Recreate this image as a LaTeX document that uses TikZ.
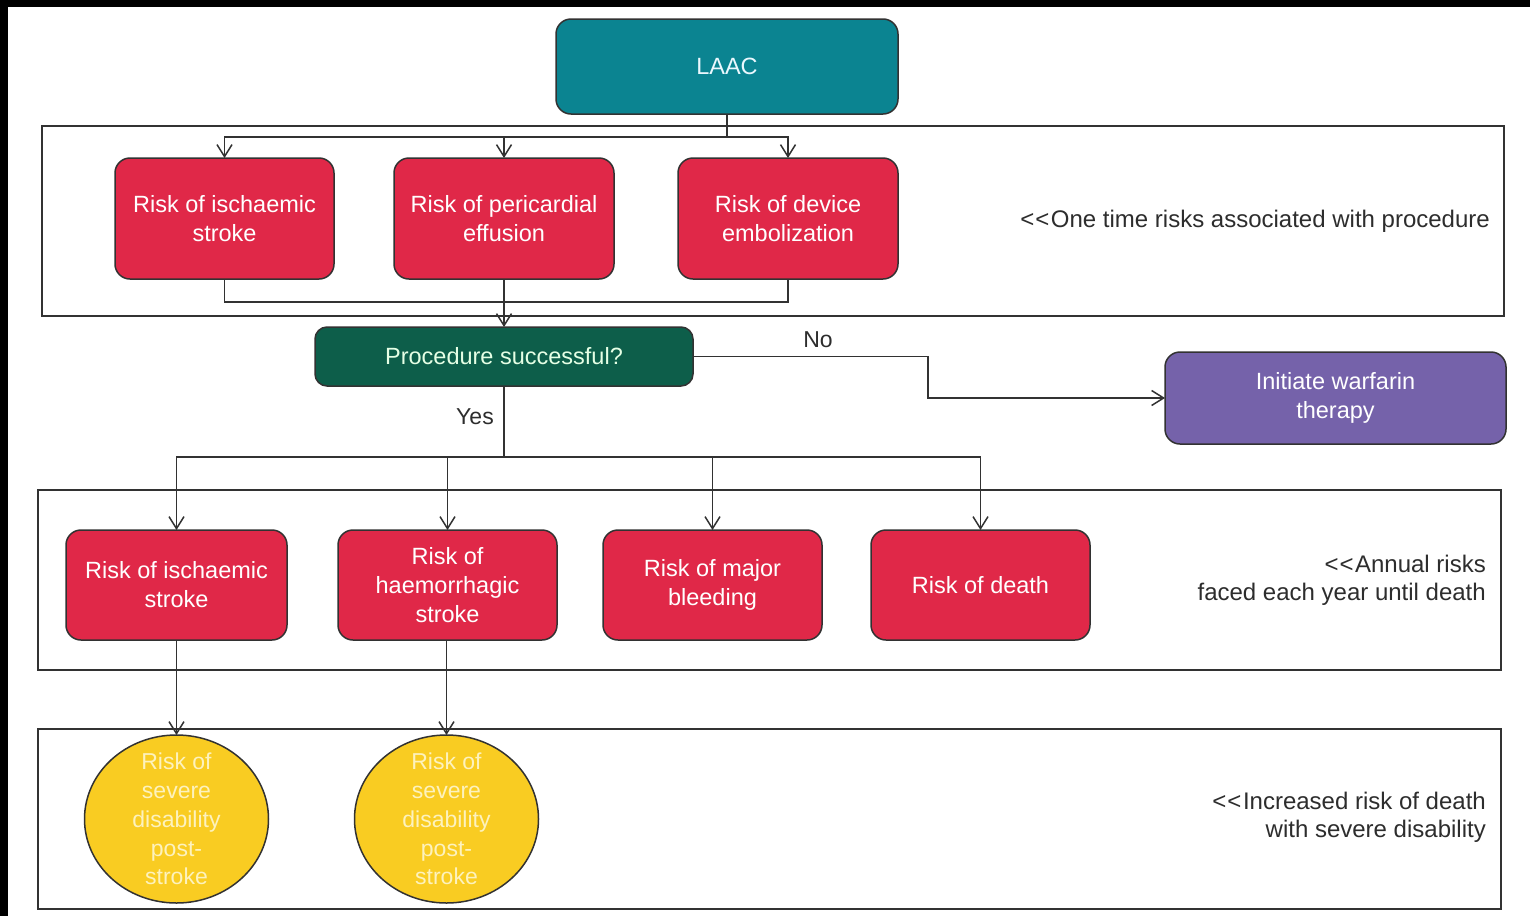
\documentclass[tikz,border=0pt]{standalone}
\usepackage{fontspec}
\setmainfont{Liberation Sans}
\usetikzlibrary{arrows.meta,shapes.geometric}

\definecolor{laacteal}{RGB}{11,132,145}
\definecolor{riskred}{RGB}{224,40,72}
\definecolor{decgreen}{RGB}{13,94,74}
\definecolor{warfpurple}{RGB}{117,98,170}
\definecolor{disyellow}{RGB}{249,204,34}
\definecolor{disyellowtext}{RGB}{253,242,190}
\definecolor{edgegray}{RGB}{50,50,50}
\definecolor{notegray}{RGB}{45,45,45}

% two separate '<' signs, kept apart from the font's guillemet ligature
\newcommand{\leftmarks}{{<}\kern1pt{<}\kern1.5pt}

\tikzset{
  boxbase/.style={draw=edgegray, line width=1.5pt, rounded corners=15pt,
    align=center, inner sep=0pt, outer sep=0pt, text=white,
    font=\fontsize{23.5}{29}\selectfont},
  laacbox/.style={boxbase, fill=laacteal, text=white!92!cyan},
  riskbox/.style={boxbase, fill=riskred},
  decbox/.style={boxbase, fill=decgreen, rounded corners=12pt, text=white!90!green},
  warfbox/.style={boxbase, fill=warfpurple},
  disblob/.style={ellipse, draw=edgegray, line width=1.5pt, fill=disyellow,
    inner sep=0pt, outer sep=0pt, minimum width=184pt, minimum height=168pt},
  distext/.style={align=center, text=disyellowtext, inner sep=0pt,
    font=\fontsize{23}{28.8}\selectfont},
  frame/.style={draw=edgegray, line width=1.5pt},
  link/.style={draw=edgegray, line width=1.5pt},
  arr/.style={link, -{Straight Barb[length=12pt,width=15pt]}},
  note/.style={anchor=east, align=right, text=notegray, inner sep=0pt,
    font=\fontsize{24}{28}\selectfont},
  branchlabel/.style={text=notegray, inner sep=0pt, font=\fontsize{23}{28}\selectfont},
}

\begin{document}
\begin{tikzpicture}[x=1pt, y=-1pt]
  % canvas and dark edges
  \useasboundingbox (0,0) rectangle (1530,916);
  \fill[white] (0,0) rectangle (1530,916);
  \fill[black] (0,0) rectangle (1530,7);
  \fill[black] (0,0) rectangle (8,916);

  % group frames
  \draw[frame] (42,126) rectangle (1504,316);
  \draw[frame] (38,490) rectangle (1501,670);
  \draw[frame] (38,729) rectangle (1501,909);

  % nodes
  \node[laacbox, minimum width=342pt, minimum height=95pt] (laac) at (727,66.5) {LAAC};

  \node[riskbox, minimum width=219pt, minimum height=121pt] (r1) at (224.5,218.5) {Risk of ischaemic\\stroke};
  \node[riskbox, minimum width=220pt, minimum height=121pt] (r2) at (504,218.5) {Risk of pericardial\\effusion};
  \node[riskbox, minimum width=220pt, minimum height=121pt] (r3) at (788,218.5) {Risk of device\\embolization};

  \node[decbox, minimum width=378pt, minimum height=59pt] (proc) at (504,356.5) {Procedure successful?};
  \node[warfbox, minimum width=341pt, minimum height=92pt] (warf) at (1335.5,398) {Initiate warfarin\\therapy};

  \node[riskbox, minimum width=221pt, minimum height=110pt] (b1) at (176.5,585) {Risk of ischaemic\\stroke};
  \node[riskbox, minimum width=219pt, minimum height=110pt] (b2) at (447.5,585) {Risk of\\haemorrhagic\\stroke};
  \node[riskbox, minimum width=219pt, minimum height=110pt] (b3) at (712.5,585) {Risk of major\\bleeding};
  \node[riskbox, minimum width=219pt, minimum height=110pt] (b4) at (980.5,585) {Risk of death};

  \node[disblob] (c1) at (176.5,819) {};
  \node[distext] (c1t) at (c1.center) {Risk of\\severe\\disability\\post-\\stroke};
  \node[disblob] (c2) at (446.5,819) {};
  \node[distext] (c2t) at (c2.center) {Risk of\\severe\\disability\\post-\\stroke};

  % side notes
  \node[note] (n1) at (1490,221) {\leftmarks One time risks associated with procedure};
  \node[note] (n2) at (1486,580) {\leftmarks Annual risks\\faced each year until death};
  \node[note] (n3) at (1486,817) {\leftmarks Increased risk of death\\with severe disability};

  % LAAC to one-time risks
  \coordinate (j1) at (727,137);
  \draw[link] (laac.south) -- (j1);
  \draw[arr] (j1) -| (r1.north);
  \draw[arr] (j1) -| (r2.north);
  \draw[arr] (j1) -| (r3.north);

  % one-time risks to decision
  \coordinate (j2) at (504,302);
  \draw[link] (r1.south) |- (j2);
  \draw[link] (r3.south) |- (j2);
  \draw[arr] (r2.south) -- (proc.north);

  % No branch
  \coordinate (k1) at (928,356.5);
  \draw[arr] (proc.east) -- (k1) |- (warf.west);
  \node[branchlabel] (no) at (818,340) {No};

  % Yes branch
  \coordinate (j3) at (504,457);
  \draw[link] (proc.south) -- (j3);
  \node[branchlabel] (yes) at (475,417) {Yes};
  \draw[arr] (j3) -| (b1.north);
  \draw[arr] (j3) -| (b2.north);
  \draw[arr] (j3) -| (b3.north);
  \draw[arr] (j3) -| (b4.north);

  % strokes to disability
  \draw[arr] (b1.south) -- (c1.north);
  \draw[arr] (b2.south -| c2.north) -- (c2.north);
\end{tikzpicture}
\end{document}
